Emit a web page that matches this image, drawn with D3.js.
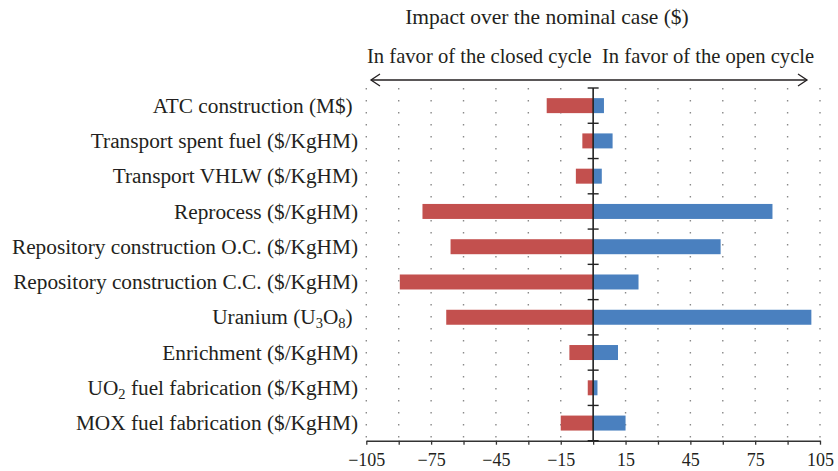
<!DOCTYPE html>
<html>
<head>
<meta charset="utf-8">
<script src="https://cdn.jsdelivr.net/npm/d3@7"></script>
<style>
  html, body { margin: 0; padding: 0; background: #fff; }
  svg { display: block; font-family: "Liberation Serif", "Times New Roman", serif; }
  text { fill: #231f20; white-space: pre; }
</style>
</head>
<body>
<svg id="chart" width="838" height="471"></svg>
<script>
// ---- data ----
const categories = [
  "ATC construction (M$)",
  "Transport spent fuel ($/KgHM)",
  "Transport VHLW ($/KgHM)",
  "Reprocess ($/KgHM)",
  "Repository construction O.C. ($/KgHM)",
  "Repository construction C.C. ($/KgHM)",
  "Uranium (U3O8)",
  "Enrichment ($/KgHM)",
  "UO2 fuel fabrication ($/KgHM)",
  "MOX fuel fabrication ($/KgHM)"
];
const closedCycle = [-21.5, -5, -8, -79, -66, -89.5, -68, -11, -2.5, -15];   // red (left)
const openCycle   = [5, 9, 4, 83, 59, 21, 101, 11.5, 2, 15];                  // blue (right)
const tickValues = [-105, -90, -75, -60, -45, -30, -15, 0, 15, 30, 45, 60, 75, 90, 105];
const labeledTicks = [-105, -75, -45, -15, 15, 45, 75, 105];

const titleText = "Impact over the nominal case ($)";
const leftNote = "In favor of the closed cycle";
const rightNote = "In favor of the open cycle";

// ---- scales ----
const svg = d3.select("#chart");
const x = d3.scaleLinear().domain([-105, 105]).range([366.3, 820]);
const y = d3.scaleBand().domain(categories).range([88, 440.7])
  .paddingInner(0.575).paddingOuter(0.2875);

// ---- dotted grid ----
svg.append("g").selectAll("line").data(tickValues.filter(v => v !== 0)).join("line")
  .attr("x1", d => x(d)).attr("x2", d => x(d))
  .attr("y1", 88).attr("y2", 440)
  .attr("stroke", "#8a8a8a").attr("stroke-width", 1.4)
  .attr("stroke-dasharray", "1.6,10.4");

// ---- bars ----
const rows = categories.map((c, i) => ({c, neg: closedCycle[i], pos: openCycle[i]}));
svg.append("g").selectAll("rect").data(rows).join("rect")
  .attr("x", d => x(d.neg)).attr("width", d => x(0) - x(d.neg))
  .attr("y", d => y(d.c)).attr("height", y.bandwidth())
  .attr("fill", "#c3504e");
svg.append("g").selectAll("rect").data(rows).join("rect")
  .attr("x", x(0)).attr("width", d => x(d.pos) - x(0))
  .attr("y", d => y(d.c)).attr("height", y.bandwidth())
  .attr("fill", "#4a80bf");

// ---- bottom axis ----
const xAxis = d3.axisBottom(x).tickValues(tickValues).tickSize(4).tickSizeOuter(0)
  .tickFormat(d => labeledTicks.includes(d) ? d3.format("")(d) : "");
const ax = svg.append("g").attr("transform", "translate(0,440.7)").call(xAxis);
ax.select(".domain").attr("stroke", "#333").attr("stroke-width", 1.4);
ax.selectAll(".tick line").attr("stroke", "#333").attr("stroke-width", 1.3);
ax.selectAll(".tick text").attr("font-family", "Liberation Serif, serif")
  .attr("font-size", 18).attr("fill", "#231f20").attr("y", 13).attr("dy", "0.71em");

// ---- zero axis with category ticks ----
svg.append("line").attr("x1", x(0)).attr("x2", x(0)).attr("y1", 88).attr("y2", 440.7)
  .attr("stroke", "#222").attr("stroke-width", 1.6);
const step = y.step();
svg.append("g").selectAll("line").data(d3.range(categories.length + 1)).join("line")
  .attr("x1", x(0) - 5.5).attr("x2", x(0) + 5.5)
  .attr("y1", i => 88 + i * step).attr("y2", i => 88 + i * step)
  .attr("stroke", "#222").attr("stroke-width", 1.4);

// ---- category labels ----
const lab = svg.append("g").selectAll("text").data(categories).join("text")
  .attr("x", 358).attr("y", d => y(d) + y.bandwidth() / 2)
  .attr("dy", "0.34em").attr("text-anchor", "end").attr("font-size", 21.3);
lab.each(function(d) {
  const t = d3.select(this);
  const sub = s => t.append("tspan").attr("dy", 4).attr("font-size", 14.5).text(s);
  const back = s => t.append("tspan").attr("dy", -4).text(s);
  if (d.startsWith("Uranium")) {
    t.append("tspan").text("Uranium (U");
    sub("3");
    back("O");
    sub("8");
    back(") ");
  } else if (d.startsWith("UO2")) {
    t.append("tspan").text("UO");
    sub("2");
    back(" fuel fabrication ($/KgHM)");
  } else if (d.startsWith("ATC")) {
    t.text(d + " ");
  } else {
    t.text(d);
  }
});

// ---- title and direction notes ----
svg.append("text").attr("x", 547).attr("y", 24).attr("text-anchor", "middle")
  .attr("font-size", 21.5).text(titleText);
svg.append("text").attr("x", 367).attr("y", 63).attr("font-size", 20.6).text(leftNote);
svg.append("text").attr("x", 602).attr("y", 63).attr("font-size", 20.6).text(rightNote);

// double-headed arrow
const ag = svg.append("g").attr("stroke", "#231f20").attr("stroke-width", 1.3).attr("fill", "none");
ag.append("line").attr("x1", 371).attr("x2", 807).attr("y1", 80).attr("y2", 80);
ag.append("path").attr("d", "M380,74 L371,80 L380,86");
ag.append("path").attr("d", "M798,74 L807,80 L798,86");
</script>
</body>
</html>
